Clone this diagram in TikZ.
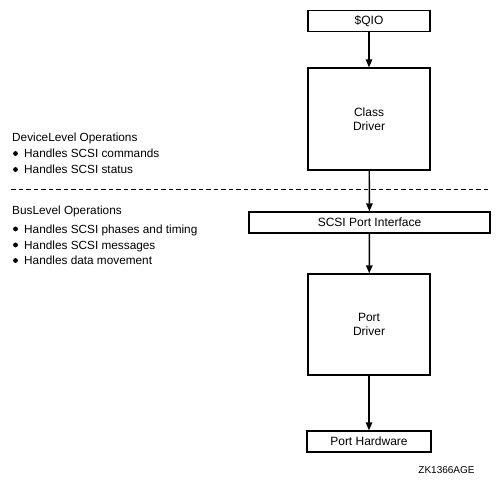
\documentclass[tikz,border=0pt]{standalone}
\usepackage{fontspec}
\setmainfont{Liberation Sans}
\usetikzlibrary{arrows.meta}
\begin{document}
\begin{tikzpicture}[x=1bp,y=-1bp,
  box/.style={draw,line width=1.3bp,inner sep=0pt,align=center,
    font=\fontsize{12bp}{14bp}\selectfont},
  flow/.style={line width=1.4bp,-{Triangle[length=8bp,width=6.5bp]}},
  txt/.style={anchor=west,inner sep=0pt,text height=8.6bp,text depth=0pt,
    font=\fontsize{11.8bp}{14bp}\selectfont},
  divider/.style={line width=1.2bp,dash pattern=on 4.5bp off 3bp}]
\useasboundingbox (0,0) rectangle (502,488);
% right column
\node[box,minimum width=122bp,minimum height=21bp] (qio) at (369,21) {\$QIO};
\node[box,minimum width=122bp,minimum height=102bp] (class) at (369,119) {Class\\Driver};
\node[box,minimum width=241bp,minimum height=21bp] (spi) at (369.5,222.5) {SCSI Port Interface};
\node[box,minimum width=122bp,minimum height=101bp] (port) at (369,324.5) {Port\\Driver};
\node[box,minimum width=124bp,minimum height=21bp] (hw) at (369,441.5) {Port Hardware};
\draw[flow] (qio) -- (class);
\draw[flow] (class) -- (spi);
\draw[flow] (spi) -- (port);
\draw[flow] (port) -- (hw);
% divider
\coordinate (dl) at (11,189.5);
\coordinate (dr) at (488,189.5);
\draw[divider] (dl) -- (dr);
% left texts
\node[txt] (dev) at (12,137) {DeviceLevel Operations};
\node[txt] (d1) at (24,153.5) {Handles SCSI commands};
\node[txt] (d2) at (24,169.5) {Handles SCSI status};
\node[txt] (bus) at (12,210) {BusLevel Operations};
\node[txt] (b1) at (24,229) {Handles SCSI phases and timing};
\node[txt] (b2) at (24,245) {Handles SCSI messages};
\node[txt] (b3) at (24,260.5) {Handles data movement};
\foreach \y in {153.5,169.5,229,245,260.5} \fill (15.5,\y) circle (2.4bp);
% figure id
\node[inner sep=0pt,font=\fontsize{10bp}{12bp}\selectfont] (zk) at (446.5,470) {ZK1366AGE};
\end{tikzpicture}
\end{document}
